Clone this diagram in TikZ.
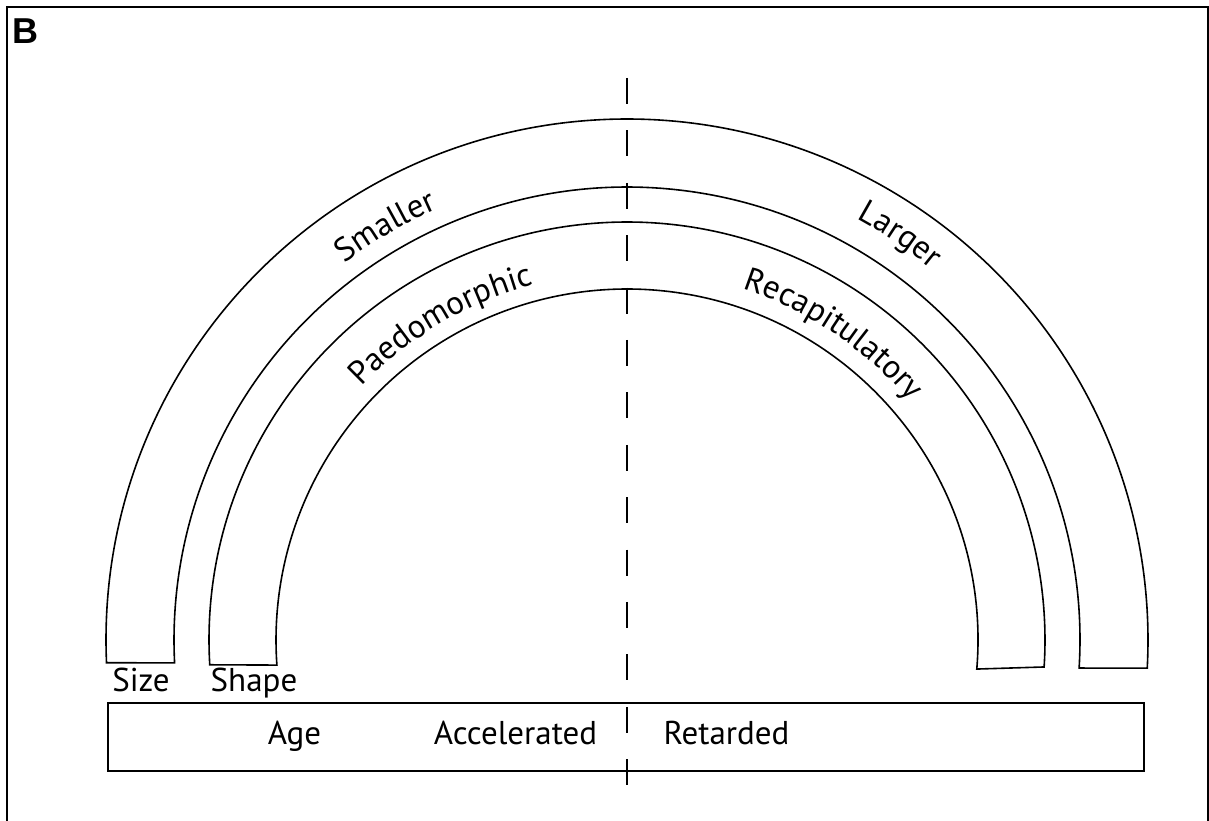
\documentclass[tikz,border=0pt]{standalone}
\usepackage{fontspec}
\setmainfont{PT Sans}
\newfontfamily\bfont{Liberation Sans}
\usetikzlibrary{decorations.text}
\begin{document}
\begin{tikzpicture}[x=1pt,y=1pt,
  band/.style={line width=1.6pt, line join=miter},
  lbl/.style={font=\fontsize{33}{40}\selectfont, anchor=base, inner sep=0pt},
  arctext/.style={decorate, decoration={text along path, text align=center, text={|\fontsize{33}{40}\selectfont|#1}}}]
\useasboundingbox (0,0) rectangle (1209,821);
% frame
\draw[line width=2.5pt] (7,-5) -- (7,814) -- (1208,814) -- (1208,-5);
\node[font=\bfont\bfseries\fontsize{36}{40}\selectfont, anchor=base west, inner sep=0pt] (B) at (12.5,777) {B};
% bands
\begin{scope}[shift={(627,181)}]
\draw[band] (182.5:521) arc[start angle=182.5,end angle=-3.1,radius=521] -- (-3.55:453) arc[start angle=-3.55,end angle=182.9,radius=453] -- cycle;
\draw[band] (183.4:418) arc[start angle=183.4,end angle=-3.7,radius=418] -- (-4.75:351) arc[start angle=-4.75,end angle=184.1,radius=351] -- cycle;
\path[arctext=Smaller] (150.3:471) arc[start angle=150.3,end angle=90.3,radius=471];
\path[arctext=Larger] (86:480) arc[start angle=86,end angle=26,radius=480];
\path[arctext=Paedomorphic] (150.5:367) arc[start angle=150.5,end angle=90.5,radius=367];
\path[arctext=Recapitulatory] (86:370) arc[start angle=86,end angle=26,radius=370];
\end{scope}
% age bar
\draw[line width=2pt] (108,118) rectangle (1144,50);
\node[lbl] (size) at (141,129) {Size};
\node[lbl] (shape) at (254,129) {Shape};
\node[lbl] (age) at (294.5,76) {Age};
\node[lbl] (acc) at (515.5,76) {Accelerated};
\node[lbl] (ret) at (726.5,76) {Retarded};
% axis
\draw[line width=2pt, dash pattern=on 26pt off 26.4pt] (627,743) -- (627,36);
\end{tikzpicture}
\end{document}
